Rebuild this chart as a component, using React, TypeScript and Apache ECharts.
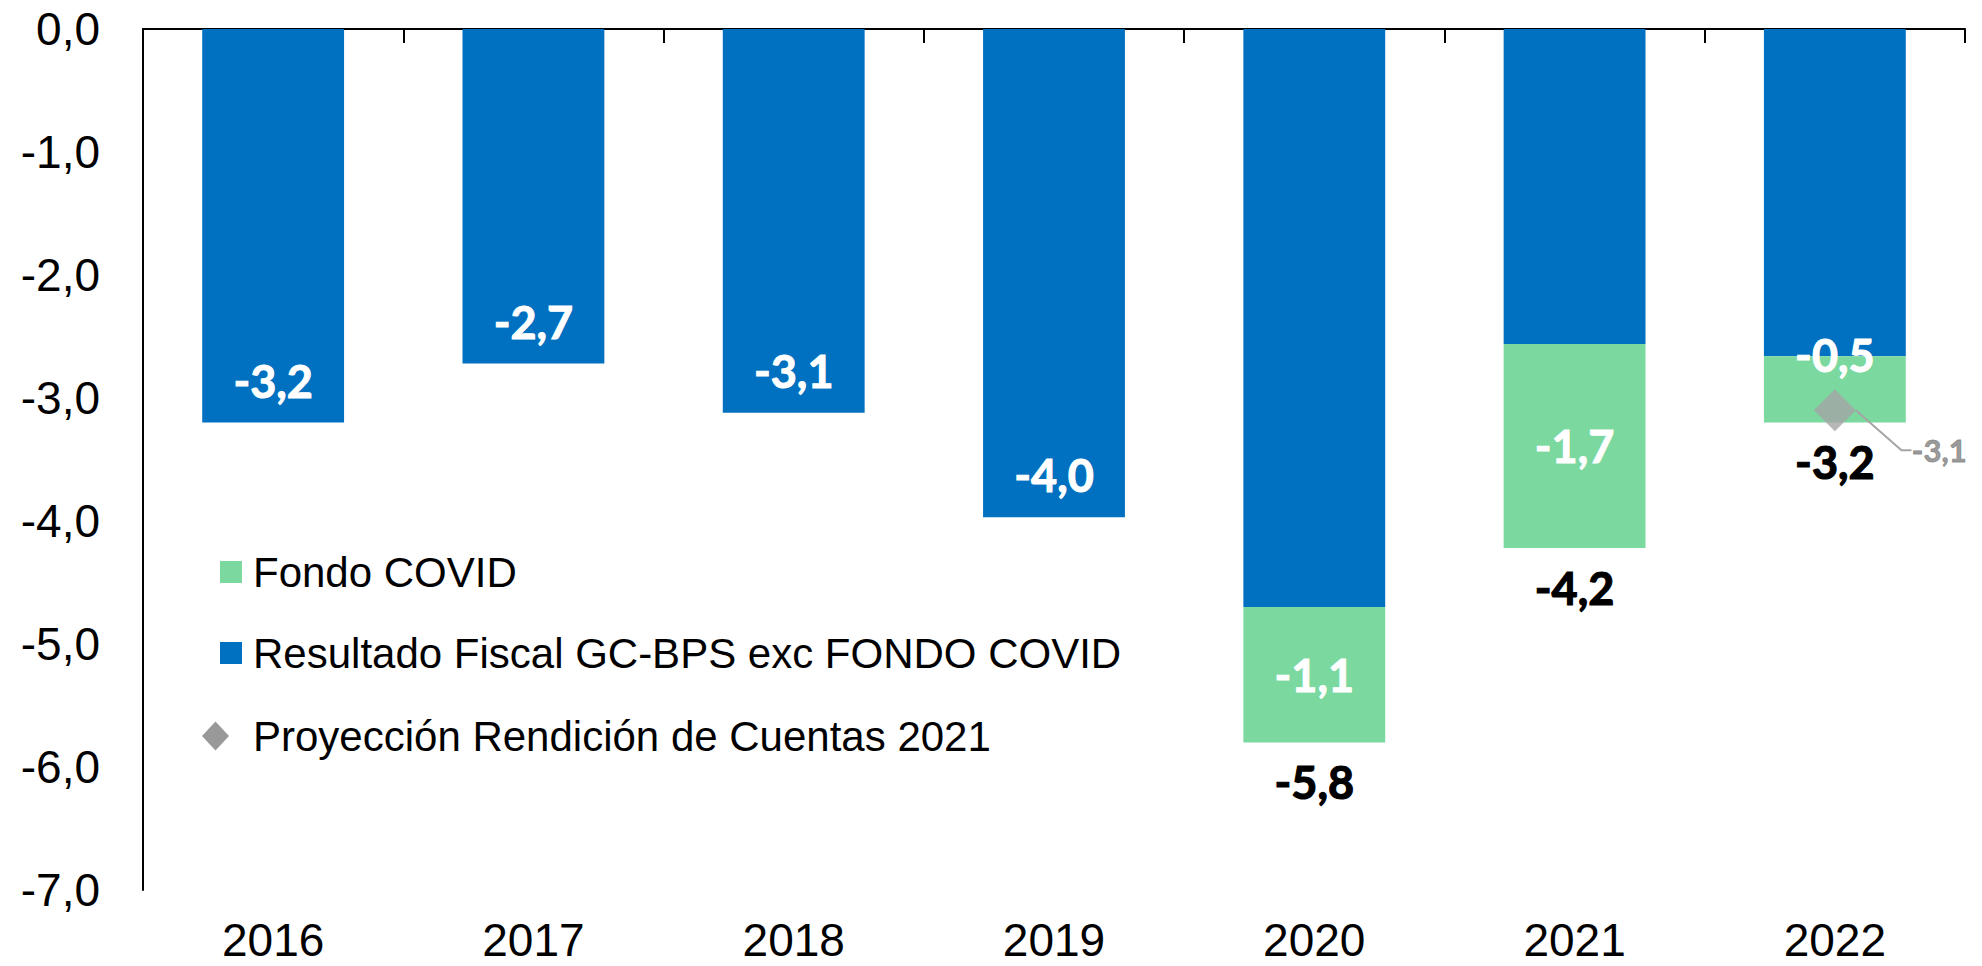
import React, { useEffect, useRef } from "react";
import * as echarts from "echarts";

const years = ["2016", "2017", "2018", "2019", "2020", "2021", "2022"];
const resultadoExcCovid = [-3.2, -2.72, -3.12, -3.97, -4.7, -2.56, -2.66];
const fondoCovid = [null, null, null, null, -1.1, -1.66, -0.54];
const proyeccion = [null, null, null, null, null, null, -3.1];
const yTicks = { min: -7, max: 0, interval: 1 };

const blueName = "Resultado Fiscal GC-BPS exc FONDO COVID";
const greenName = "Fondo COVID";
const diamondName = "Proyección Rendición de Cuentas 2021";

const fmt = (v: number) => v.toFixed(1).replace(".", ",");

export default function App() {
  const ref = useRef<HTMLDivElement>(null);
  useEffect(() => {
    if (!ref.current) return;
    const chart = echarts.init(ref.current, null, { renderer: "svg" });
    const totals = years.map((_, i) =>
      fondoCovid[i] == null ? null : Math.round((resultadoExcCovid[i] + (fondoCovid[i] as number)) * 100) / 100
    );
    const labelFont = "Lato, 'Open Sans', sans-serif";
    const sansFont = "'Liberation Sans', Arial, sans-serif";
    chart.setOption({
      animation: false,
      backgroundColor: "#ffffff",
      grid: { left: 143, right: 17, top: 29, bottom: 76, containLabel: false },
      xAxis: [
        {
          type: "category",
          data: years,
          position: "top",
          axisLine: { show: true, lineStyle: { color: "#000", width: 2 } },
          axisTick: { show: true, inside: true, length: 14, interval: 0, lineStyle: { color: "#000", width: 2 } },
          axisLabel: { show: false },
          splitLine: { show: false },
        },
        {
          type: "category",
          data: years,
          position: "bottom",
          axisLine: { show: false },
          axisTick: { show: false },
          axisLabel: {
            show: true,
            color: "#000",
            fontSize: 46,
            lineHeight: 46,
            fontFamily: sansFont,
            margin: 27,
          },
          splitLine: { show: false },
        },
      ],
      yAxis: {
        type: "value",
        min: yTicks.min,
        max: yTicks.max,
        interval: yTicks.interval,
        axisLine: { show: true, lineStyle: { color: "#000", width: 2 } },
        axisTick: { show: false },
        splitLine: { show: false },
        axisLabel: {
          color: "#000",
          fontSize: 46,
          fontFamily: sansFont,
          margin: 43,
          formatter: (v: number) => fmt(v),
        },
      },
      legend: [
        {
          orient: "vertical",
          left: 215,
          top: 546,
          itemWidth: 22,
          itemHeight: 22,
          itemGap: 39,
          icon: "rect",
          data: [greenName, blueName],
          textStyle: {
            color: "#000",
            fontSize: 42,
            lineHeight: 42,
            fontFamily: sansFont,
            padding: [0, 0, 0, 6],
          },
        },
        {
          orient: "vertical",
          left: 197,
          top: 710,
          itemWidth: 27,
          itemHeight: 29,
          data: [{ name: diamondName, icon: "diamond", itemStyle: { color: "#808080" } }],
          textStyle: {
            color: "#000",
            fontSize: 42,
            lineHeight: 42,
            fontFamily: sansFont,
            padding: [0, 0, 0, 19],
          },
        },
      ],
      series: [
        {
          name: blueName,
          type: "bar",
          stack: "total",
          barWidth: "54.5%",
          itemStyle: { color: "#0070C0" },
          data: resultadoExcCovid.map((v, i) => ({
            value: v,
            label: { show: fondoCovid[i] == null },
          })),
          label: {
            show: true,
            position: "insideBottom",
            distance: 19,
            color: "#fff",
            fontSize: 45,
            lineHeight: 46,
            fontWeight: "bold",
            fontFamily: labelFont,
            textBorderColor: "#fff",
            textBorderWidth: 1,
            formatter: (p: any) => fmt(p.value),
          },
        },
        {
          name: greenName,
          type: "bar",
          stack: "total",
          barWidth: "54.5%",
          itemStyle: { color: "#7BD89F" },
          data: fondoCovid.map((v, i) =>
            v == null
              ? null
              : i === 6
              ? { value: v, label: { offset: [0, -34] } }
              : { value: v }
          ),
          label: {
            show: true,
            position: "inside",
            color: "#fff",
            fontSize: 45,
            lineHeight: 46,
            fontWeight: "bold",
            fontFamily: labelFont,
            textBorderColor: "#fff",
            textBorderWidth: 1,
            formatter: (p: any) => fmt(p.value),
          },
        },
        {
          name: "total",
          type: "scatter",
          symbolSize: 1,
          itemStyle: { color: "rgba(255,255,255,0)" },
          data: totals,
          silent: true,
          label: {
            show: true,
            position: "bottom",
            distance: 16,
            color: "#000",
            opacity: 1,
            fontSize: 45,
            lineHeight: 46,
            fontWeight: "bold",
            fontFamily: labelFont,
            textBorderColor: "#000",
            textBorderWidth: 1.2,
            formatter: (p: any) => fmt(p.value),
          },
          z: 5,
        },
        {
          name: diamondName,
          type: "scatter",
          symbol: "diamond",
          symbolSize: [42, 42],
          itemStyle: { color: "#A5A5A5" },
          data: proyeccion,
          z: 6,
          label: {
            show: true,
            position: "right",
            color: "#7F7F7F",
            fontSize: 31,
            fontWeight: "bold",
            fontFamily: labelFont,
            textBorderColor: "#7F7F7F",
            textBorderWidth: 0.8,
            formatter: (p: any) => fmt(p.value),
          },
          labelLayout: { dx: 51, dy: 40 },
          labelLine: { show: true, length2: 10, lineStyle: { color: "#A5A5A5", width: 2 } },
        },
      ],
    });
    return () => chart.dispose();
  }, []);
  return <div ref={ref} style={{ position: "fixed", left: 0, top: 0, width: 1982, height: 966 }} />;
}
